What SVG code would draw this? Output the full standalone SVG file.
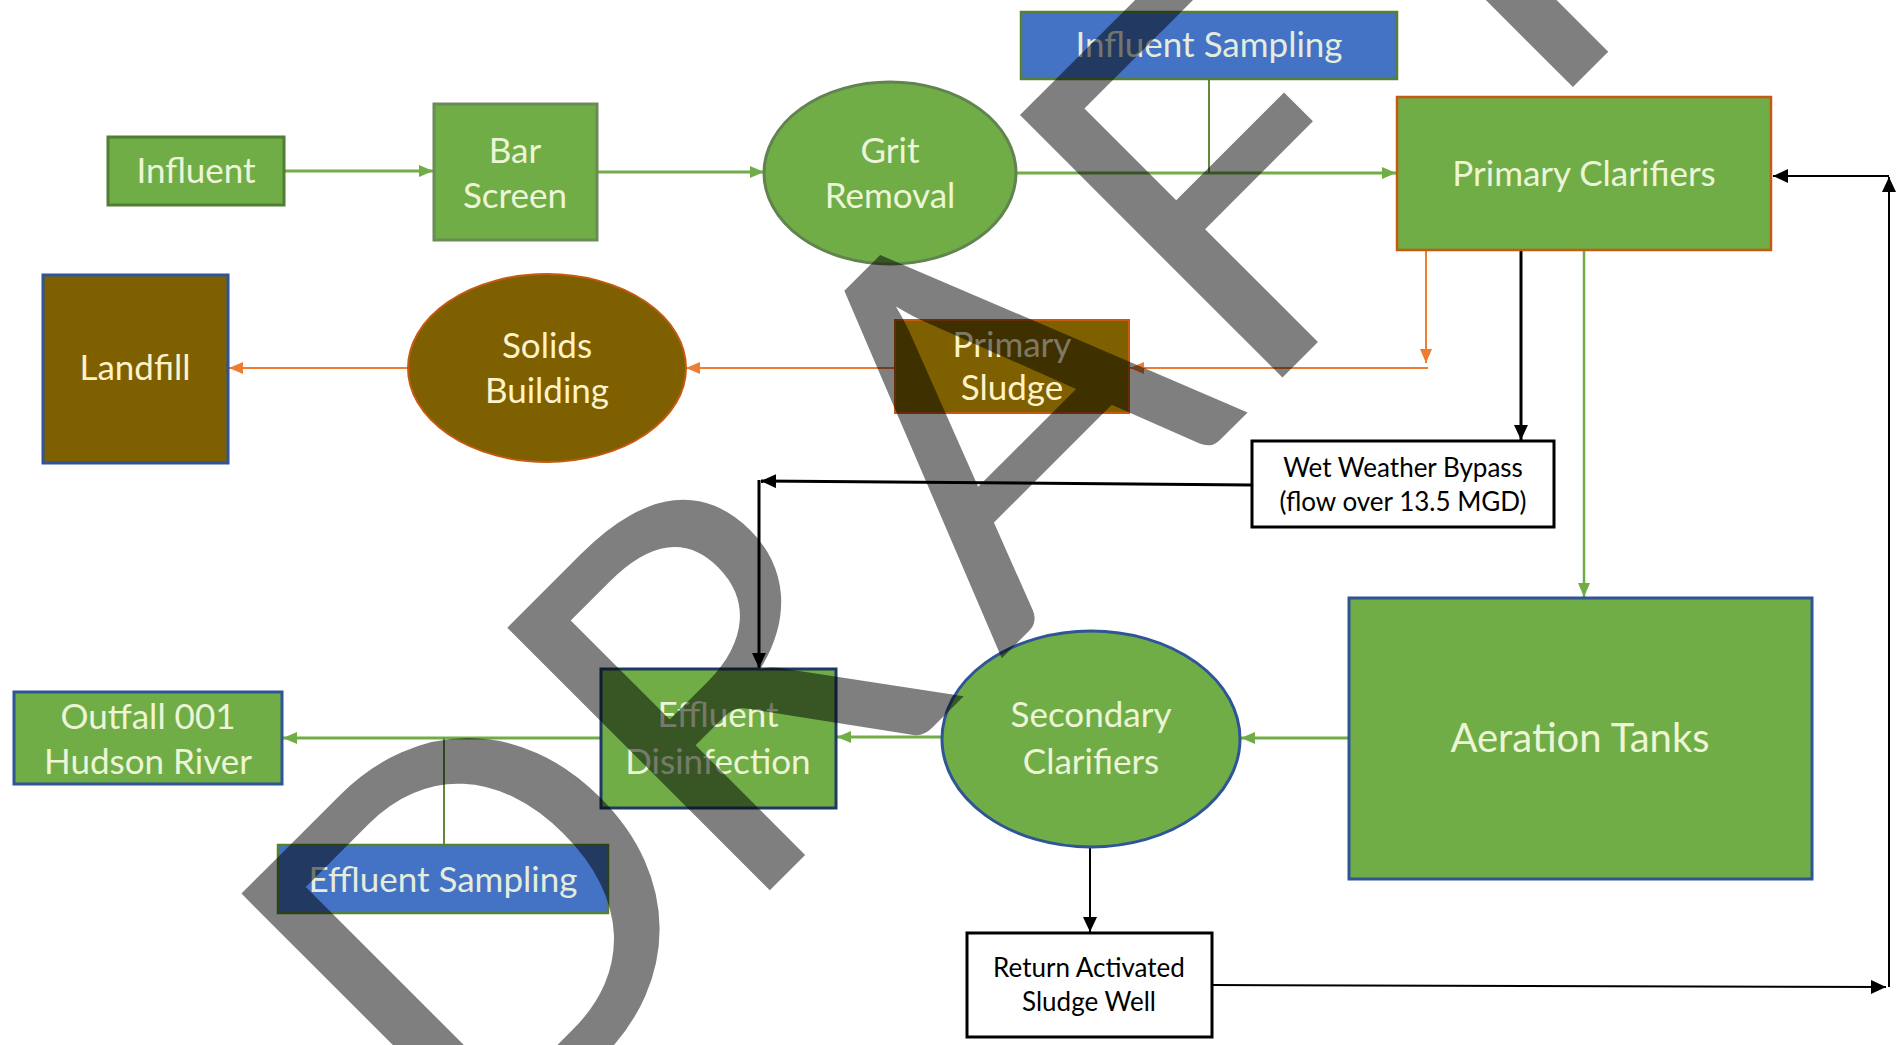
<svg xmlns="http://www.w3.org/2000/svg" width="1902" height="1045" viewBox="0 0 1902 1045">
<style>
.lbl{font-family:Lato,"Liberation Sans",sans-serif;font-size:35px;fill:#ecf5d6;text-anchor:middle}
.lblb{font-family:Lato,"Liberation Sans",sans-serif;font-size:35px;fill:#fdf2c8;text-anchor:middle}
.dk{font-family:Lato,"Liberation Sans",sans-serif;font-size:26px;fill:#000;text-anchor:middle}
.gr{fill:#70ad47}
.br{fill:#7f6000}
.bl{fill:#4472c4}
.wh{fill:#fff;stroke:#000;stroke-width:3}
.cg{fill:none;stroke:#70ad47;stroke-width:3}
.co{fill:none;stroke:#ed7d31;stroke-width:2}
.ck{fill:none;stroke:#000;stroke-width:3}
.cs{fill:none;stroke:#5e8a3a;stroke-width:2}
</style>
<defs>
<marker id="ag" viewBox="0 0 14 12" refX="14" refY="6" markerWidth="14" markerHeight="12" markerUnits="userSpaceOnUse" orient="auto"><path d="M0,0 L14,6 L0,12 z" fill="#70ad47"/></marker>
<marker id="ao" viewBox="0 0 14 12" refX="14" refY="6" markerWidth="14" markerHeight="12" markerUnits="userSpaceOnUse" orient="auto"><path d="M0,0 L14,6 L0,12 z" fill="#ed7d31"/></marker>
<marker id="ak" viewBox="0 0 15 14" refX="15" refY="7" markerWidth="15" markerHeight="14" markerUnits="userSpaceOnUse" orient="auto"><path d="M0,0 L15,7 L0,14 z" fill="#000"/></marker>
</defs>
<rect width="1902" height="1045" fill="#fff"/>

<g id="connectors">
<path class="cg" d="M285,171 H433" marker-end="url(#ag)"/>
<path class="cg" d="M597,172 H764" marker-end="url(#ag)"/>
<path class="cg" d="M1016,173 H1396" marker-end="url(#ag)"/>
<path class="cs" d="M1209,80 V173"/>
<path class="co" d="M1426,250 V363" marker-end="url(#ao)"/>
<path class="co" d="M1428,368 H1130" marker-end="url(#ao)"/>
<path class="co" d="M895,368 H686" marker-end="url(#ao)"/>
<path class="co" d="M408,368 H229" marker-end="url(#ao)"/>
<path class="ck" d="M1521,251 V440" marker-end="url(#ak)"/>
<path class="cg" d="M1584,251 V597" style="stroke-width:2.5" marker-end="url(#ag)"/>
<path class="ck" d="M1252,485 L761,481" marker-end="url(#ak)"/>
<path class="ck" d="M759,480 V668" marker-end="url(#ak)"/>
<path class="cg" d="M1349,738 H1241" marker-end="url(#ag)"/>
<path class="cg" d="M941,737 H837" marker-end="url(#ag)"/>
<path class="cg" d="M601,738 H283" marker-end="url(#ag)"/>
<path class="cs" d="M444,738 V845"/>
<path class="ck" d="M1090,847 V932" style="stroke-width:2" marker-end="url(#ak)"/>
<path class="ck" d="M1213,985 L1886,987" style="stroke-width:2" marker-end="url(#ak)"/>
<path class="ck" d="M1889,987 V177" style="stroke-width:2" marker-end="url(#ak)"/>
<path class="ck" d="M1889,176 H1773" style="stroke-width:2" marker-end="url(#ak)"/>
</g>

<g id="influent">
<rect class="gr" x="108" y="137" width="176" height="68" stroke="#507e32" stroke-width="3"/>
<text class="lbl" x="196" y="183">Influent</text>
</g>
<g id="bar-screen">
<rect class="gr" x="434" y="104" width="163" height="136" stroke="#6a8a58" stroke-width="3"/>
<text class="lbl" x="515" y="163">Bar</text>
<text class="lbl" x="515" y="208">Screen</text>
</g>
<g id="grit-removal">
<ellipse class="gr" cx="890" cy="173" rx="126" ry="91" stroke="#61834f" stroke-width="3"/>
<text class="lbl" x="890" y="163">Grit</text>
<text class="lbl" x="890" y="208">Removal</text>
</g>
<g id="influent-sampling">
<rect class="bl" x="1021" y="12" width="376" height="67" stroke="#548235" stroke-width="2.5"/>
<text class="lbl" x="1209" y="57" style="fill:#e4ecdc">Influent Sampling</text>
</g>
<g id="primary-clarifiers">
<rect class="gr" x="1397" y="97" width="374" height="153" stroke="#c55a11" stroke-width="2.5"/>
<text class="lbl" x="1584" y="186">Primary Clarifiers</text>
</g>
<g id="landfill">
<rect class="br" x="43" y="275" width="185" height="188" stroke="#2f5597" stroke-width="3"/>
<text class="lblb" x="135" y="380">Landfill</text>
</g>
<g id="solids-building">
<ellipse class="br" cx="547" cy="368" rx="139" ry="94" stroke="#c55a11" stroke-width="2"/>
<text class="lblb" x="547" y="358">Solids</text>
<text class="lblb" x="547" y="403">Building</text>
</g>
<g id="primary-sludge">
<rect class="br" x="895" y="320" width="234" height="93" stroke="#c55a11" stroke-width="2"/>
<text class="lblb" x="1012" y="357">Primary</text>
<text class="lblb" x="1012" y="400">Sludge</text>
</g>
<g id="wet-weather-bypass">
<rect class="wh" x="1252" y="441" width="302" height="86"/>
<text class="dk" x="1403" y="477">Wet Weather Bypass</text>
<text class="dk" x="1403" y="511">(flow over 13.5 MGD)</text>
</g>
<g id="aeration-tanks">
<rect class="gr" x="1349" y="598" width="463" height="281" stroke="#2f5597" stroke-width="3"/>
<text class="lbl" x="1580" y="752" style="font-size:40px">Aeration Tanks</text>
</g>
<g id="secondary-clarifiers">
<ellipse class="gr" cx="1091" cy="739" rx="149" ry="108" stroke="#2f5597" stroke-width="3"/>
<text class="lbl" x="1091" y="727">Secondary</text>
<text class="lbl" x="1091" y="774">Clarifiers</text>
</g>
<g id="effluent-disinfection">
<rect class="gr" x="601" y="669" width="235" height="139" stroke="#203864" stroke-width="3"/>
<text class="lbl" x="718" y="727">Effluent</text>
<text class="lbl" x="718" y="774">Disinfection</text>
</g>
<g id="outfall">
<rect class="gr" x="14" y="692" width="268" height="92" stroke="#2f5597" stroke-width="3"/>
<text class="lbl" x="148" y="729">Outfall 001</text>
<text class="lbl" x="148" y="774">Hudson River</text>
</g>
<g id="effluent-sampling">
<rect class="bl" x="278" y="845" width="330" height="68" stroke="#548235" stroke-width="2.5"/>
<text class="lbl" x="443" y="892" style="fill:#e4ecdc">Effluent Sampling</text>
</g>
<g id="return-activated-sludge-well">
<rect class="wh" x="967" y="933" width="245" height="104"/>
<text class="dk" x="1089" y="977">Return Activated</text>
<text class="dk" x="1089" y="1011">Sludge Well</text>
</g>

<g id="watermark">
<text transform="translate(501.5,1158.5) rotate(-45)" x="-44 332 706 1057 1387" y="0" font-family="Lato,'Liberation Sans',sans-serif" font-size="518" fill="#000" fill-opacity="0.5">DRAFT</text>
</g>
</svg>
